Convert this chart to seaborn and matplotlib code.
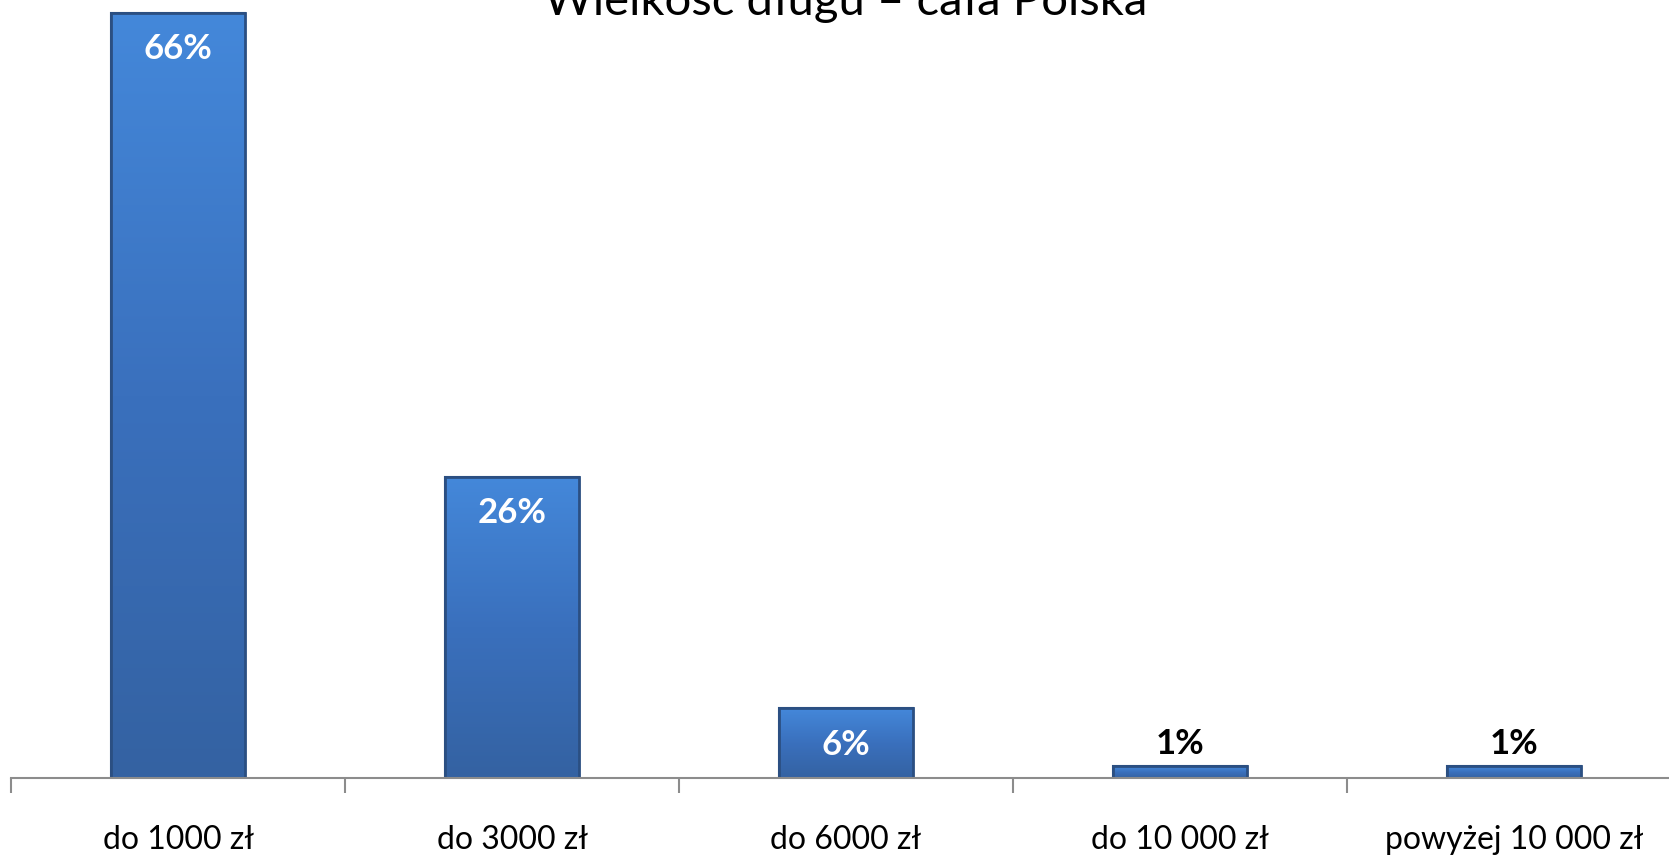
import numpy as np
import pandas as pd
import matplotlib
matplotlib.use("Agg")
import matplotlib.pyplot as plt
from matplotlib.colors import LinearSegmentedColormap
import seaborn as sns

categories = ["do 1000 zł", "do 3000 zł", "do 6000 zł", "do 10 000 zł", "powyżej 10 000 zł"]
values = [66, 26, 6, 1, 1]
value_labels = ["66%", "26%", "6%", "1%", "1%"]
title = "Wielkość długu – cała Polska"

sns.set_theme(style="white")
plt.rcParams["font.family"] = ["Lato", "DejaVu Sans"]

W, H = 1669, 856
fig = plt.figure(figsize=(W / 100, H / 100), dpi=100)
base_px = 778
left_px = 11
cat_px = 334
ax = fig.add_axes([left_px / W, (H - base_px) / H, 5 * cat_px / W, base_px / H])

df = pd.DataFrame({"cat": categories, "val": values})
sns.barplot(data=df, x="cat", y="val", order=categories, color="#3b72c0",
            width=0.4, edgecolor="#2d5386", linewidth=1.5, ax=ax, saturation=1)

ax.set_xlim(-0.5, 4.5)
px_per_pct = 11.59
ax.set_ylim(0, base_px / px_per_pct)

# gradient fill clipped to bars
cmap = LinearSegmentedColormap.from_list("g", ["#3462a2", "#3a70bd", "#4488da"])
grad = np.linspace(0, 1, 256).reshape(-1, 1)
bars = list(ax.patches)
for p in bars:
    x0, y0 = p.get_x(), p.get_y()
    w, h = p.get_width(), p.get_height()
    im = ax.imshow(grad, cmap=cmap, origin="lower", aspect="auto",
                   extent=(x0, x0 + w, y0, y0 + h), interpolation="bilinear")
    im.set_clip_path(p)
    p.set_zorder(2)
    im.set_zorder(2.1)
    edge = plt.Rectangle((x0, y0), w, h, fill=False, edgecolor="#2b4f82",
                         linewidth=2.0, zorder=2.2)
    ax.add_patch(edge)

for p, v, lab in zip(bars, values, value_labels):
    cx = p.get_x() + p.get_width() / 2
    top = p.get_height()
    if v >= 5:
        ax.annotate(lab, xy=(cx, top), xytext=(0, -26), textcoords="offset points",
                    ha="center", va="center", color="white", fontsize=25,
                    fontweight="bold", zorder=5)
    else:
        ax.annotate(lab, xy=(cx, top), xytext=(0, 16), textcoords="offset points",
                    ha="center", va="center", color="black", fontsize=25,
                    fontweight="bold", zorder=5)

ax.set_xlabel("")
ax.set_ylabel("")
ax.set_yticks([])
for s in ["left", "top", "right"]:
    ax.spines[s].set_visible(False)
ax.spines["bottom"].set_color("#8c8c8c")
ax.spines["bottom"].set_linewidth(1.5)

ax.set_xticks(range(len(categories)))
ax.set_xticklabels(categories, fontsize=23, color="black")
ax.tick_params(axis="x", which="major", length=0, pad=34)
ax.set_xticks(np.arange(-0.5, 5, 1), minor=True)
ax.tick_params(axis="x", which="minor", bottom=True, length=11, width=1.5, color="#8c8c8c")

fig.text(846 / W, 1 - 15 / H, title, ha="center", va="baseline", fontsize=34, color="black")

fig.savefig("out.png", dpi=100, facecolor="white")
